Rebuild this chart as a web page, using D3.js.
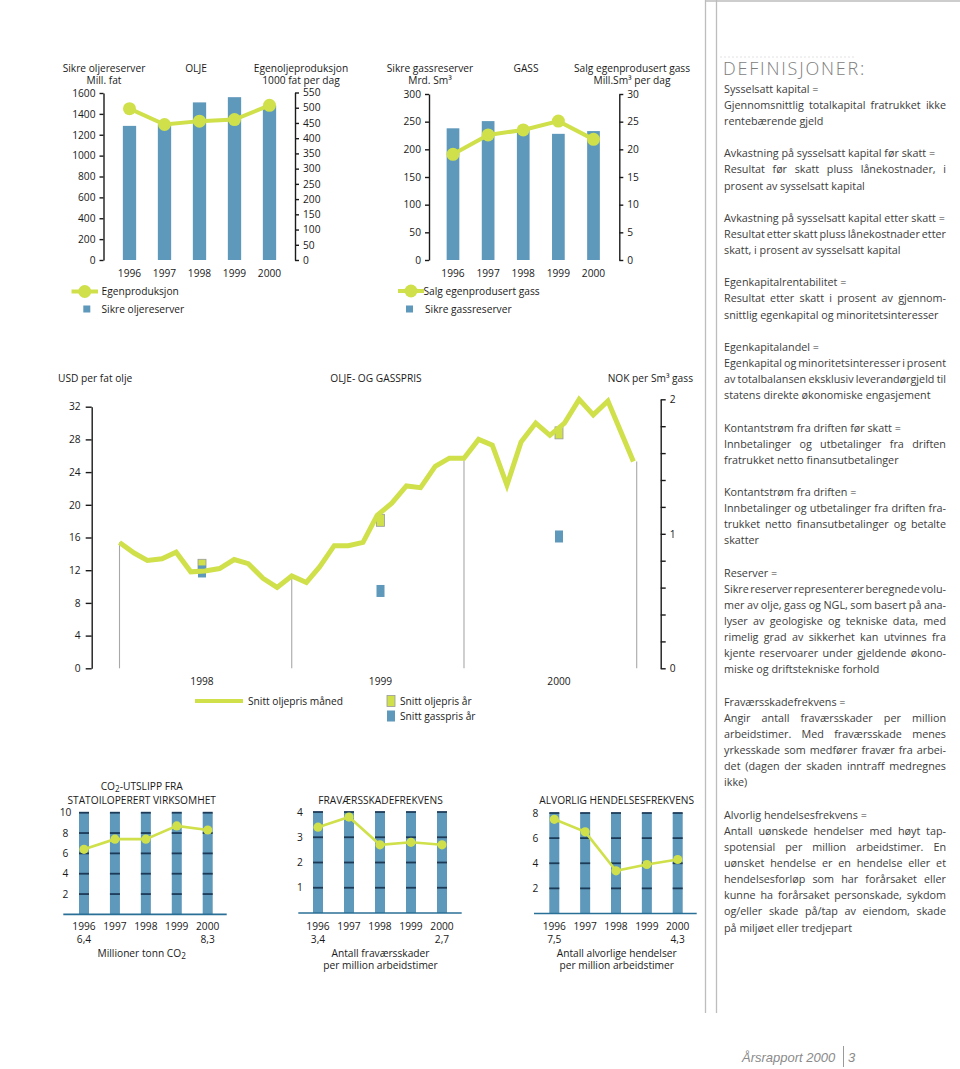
<!DOCTYPE html>
<html><head><meta charset="utf-8">
<script src="https://cdn.jsdelivr.net/npm/d3@7"></script>
<style>
body{margin:0;background:#fff;}
svg{display:block;font-family:"Open Sans",sans-serif;}
</style></head><body>
<svg id="c" width="960" height="1069"></svg>
<script>
// ---------------- DATA ----------------
const years = ["1996","1997","1998","1999","2000"];
// OLJE
const oilReserves = [1285, 1300, 1510, 1560, 1480];     // Mill. fat
const oilProduction = [497, 445, 456, 461, 508];        // 1000 fat per dag
const oilLeftTicks = [0,200,400,600,800,1000,1200,1400,1600];
const oilRightTicks = [0,50,100,150,200,250,300,350,400,450,500,550];
// GASS
const gasReserves = [238, 251, 236, 228, 233];          // Mrd. Sm3
const gasSales = [19.1, 22.6, 23.5, 25.1, 21.8];        // Mill. Sm3 per dag
const gasLeftTicks = [0,50,100,150,200,250,300];
const gasRightTicks = [0,5,10,15,20,25,30];
// OLJE- OG GASSPRIS
const priceMonths = ["1998-01-01","1998-02-01","1998-03-01","1998-04-01","1998-05-01","1998-06-01",
  "1998-07-01","1998-08-01","1998-09-01","1998-10-01","1998-11-01","1998-12-01",
  "1999-01-01","1999-02-01","1999-03-01","1999-04-01","1999-05-01","1999-06-01",
  "1999-07-01","1999-08-01","1999-09-01","1999-10-01","1999-11-01","1999-12-01",
  "2000-01-01","2000-02-01","2000-03-01","2000-04-01","2000-05-01","2000-06-01",
  "2000-07-01","2000-08-01","2000-09-01","2000-10-01","2000-11-01","2000-12-25"];
const oilPriceMonthly = [15.4,14.1,13.2,13.4,14.2,11.8,11.9,12.2,13.3,12.8,11.0,9.9,
  11.3,10.5,12.4,15.0,15.0,15.4,18.7,20.2,22.3,22.1,24.7,25.7,
  25.7,28.0,27.3,22.4,27.7,30.0,28.5,30.0,32.9,31.0,32.7,25.3];
const priceYears = ["1998","1999","2000"];
const oilPriceAnnual = [12.6, 18.1, 28.8];   // USD per fat
const gasPriceAnnual = [0.72, 0.575, 0.98];  // NOK per Sm3
const usdTicks = [0,4,8,12,16,20,24,28,32];
const nokTicks = [0,0.2,0.4,0.6,0.8,1,1.2,1.4,1.6,1.8,2];
// Small charts
const co2 = [6.4, 7.4, 7.4, 8.7, 8.3];
const co2Ticks = [2,4,6,8,10];
const lostTime = [3.4, 3.8, 2.7, 2.8, 2.7];
const lostTicks = [1,2,3,4];
const serious = [7.5, 6.5, 3.4, 3.9, 4.3];
const seriousTicks = [2,4,6,8];
// Definisjoner
const definitions = [
 ["Sysselsatt kapital =","Gjennomsnittlig totalkapital fratrukket ikke","rentebærende gjeld"],
 ["Avkastning på sysselsatt kapital før skatt =","Resultat før skatt pluss lånekostnader, i","prosent av sysselsatt kapital"],
 ["Avkastning på sysselsatt kapital etter skatt =","Resultat etter skatt pluss lånekostnader etter","skatt, i prosent av sysselsatt kapital"],
 ["Egenkapitalrentabilitet =","Resultat etter skatt i prosent av gjennom-","snittlig egenkapital og minoritetsinteresser"],
 ["Egenkapitalandel =","Egenkapital og minoritetsinteresser i prosent","av totalbalansen eksklusiv leverandørgjeld til","statens direkte økonomiske engasjement"],
 ["Kontantstrøm fra driften før skatt =","Innbetalinger og utbetalinger fra driften","fratrukket netto finansutbetalinger"],
 ["Kontantstrøm fra driften =","Innbetalinger og utbetalinger fra driften fra-","trukket netto finansutbetalinger og betalte","skatter"],
 ["Reserver =","Sikre reserver representerer beregnede volu-","mer av olje, gass og NGL, som basert på ana-","lyser av geologiske og tekniske data, med","rimelig grad av sikkerhet kan utvinnes fra","kjente reservoarer under gjeldende økono-","miske og driftstekniske forhold"],
 ["Fraværsskadefrekvens =","Angir antall fraværsskader per million","arbeidstimer. Med fraværsskade menes","yrkesskade som medfører fravær fra arbei-","det (dagen der skaden inntraff medregnes","ikke)"],
 ["Alvorlig hendelsesfrekvens =","Antall uønskede hendelser med høyt tap-","spotensial per million arbeidstimer. En","uønsket hendelse er en hendelse eller et","hendelsesforløp som har forårsaket eller","kunne ha forårsaket personskade, sykdom","og/eller skade på/tap av eiendom, skade","på miljøet eller tredjepart"]
];

// ---------------- DRAWING ----------------
const svg = d3.select("#c");
const BLUE = "#5e98bb", GREEN = "#cfe04a", INK = "#1a1a1a";
const FS = 10.2;

function label(g, x, y, s, anchor) {
  return g.append("text").attr("x", x).attr("y", y).attr("dy", "0.35em")
    .attr("text-anchor", anchor || "middle").attr("font-size", FS).attr("fill", INK).text(s);
}
function styleAxis(sel) {
  sel.attr("font-family", null).attr("font-size", FS);
  sel.selectAll("text").attr("fill", INK);
  sel.selectAll("path,line").attr("stroke", INK).attr("stroke-width", 1.4);
}

// page rules
svg.append("line").attr("x1", 705.5).attr("x2", 705.5).attr("y1", 0).attr("y2", 1013).attr("stroke", "#bdbdbd").attr("stroke-width", 1.3);
svg.append("line").attr("x1", 716.5).attr("x2", 716.5).attr("y1", 0).attr("y2", 1013).attr("stroke", "#bdbdbd").attr("stroke-width", 1.3);
svg.append("line").attr("x1", 705).attr("x2", 960).attr("y1", 1).attr("y2", 1).attr("stroke", "#bdbdbd").attr("stroke-width", 1.3);
svg.append("line").attr("x1", 720).attr("x2", 855).attr("y1", 57).attr("y2", 57).attr("stroke", "#e2e2e2").attr("stroke-dasharray", "2,2");

// ---- combo charts (OLJE, GASS) ----
function combo(o) {
  const g = svg.append("g");
  const x = d3.scalePoint().domain(years).range(o.xr);
  const yL = d3.scaleLinear().domain([0, d3.max(o.lt)]).range([o.y0, o.yTopL]);
  const yR = d3.scaleLinear().domain([0, d3.max(o.rt)]).range([o.y0, o.yTopR]);
  g.selectAll("rect.bar").data(o.bars).join("rect").attr("class", "bar")
    .attr("x", (d, i) => x(years[i]) - o.bw / 2).attr("width", o.bw)
    .attr("y", d => yL(d)).attr("height", d => yL(0) - yL(d)).attr("fill", BLUE);
  const line = d3.line().x((d, i) => x(years[i])).y(d => yR(d));
  g.append("path").datum(o.line).attr("d", line).attr("fill", "none")
    .attr("stroke", GREEN).attr("stroke-width", 4);
  g.selectAll("circle").data(o.line).join("circle")
    .attr("cx", (d, i) => x(years[i])).attr("cy", d => yR(d)).attr("r", 6.5).attr("fill", GREEN);
  g.append("g").attr("transform", `translate(${o.axL},0)`)
    .call(d3.axisLeft(yL).tickValues(o.lt).tickSize(4).tickSizeOuter(0).tickPadding(4).tickFormat(d3.format("d")))
    .call(styleAxis);
  g.append("g").attr("transform", `translate(${o.axR},0)`)
    .call(d3.axisRight(yR).tickValues(o.rt).tickSize(4).tickSizeOuter(0).tickPadding(4).tickFormat(d3.format("d")))
    .call(styleAxis);
  years.forEach(yr => label(g, x(yr), 273, yr));
  o.titles.forEach(t => label(g, t[0], t[1], t[2]));
  // legend
  const lg = o.legend;
  g.append("line").attr("x1", lg.lx0).attr("x2", lg.lx1).attr("y1", lg.ly).attr("y2", lg.ly)
    .attr("stroke", GREEN).attr("stroke-width", 4);
  g.append("circle").attr("cx", (lg.lx0 + lg.lx1) / 2).attr("cy", lg.ly).attr("r", 6.5).attr("fill", GREEN);
  label(g, lg.tx1, lg.ly, lg.t1, "start");
  g.append("rect").attr("x", lg.sx).attr("y", lg.sy - 3.5).attr("width", 7).attr("height", 7).attr("fill", BLUE);
  label(g, lg.tx2, lg.sy, lg.t2, "start");
}

combo({
  xr: [129.5, 269.5], bw: 13.3, y0: 260, yTopL: 93, yTopR: 92.5, axL: 103.5, axR: 295,
  lt: oilLeftTicks, rt: oilRightTicks, bars: oilReserves, line: oilProduction,
  titles: [[104, 68, "Sikre oljereserver"], [104, 80, "Mill. fat"], [196, 68, "OLJE"],
           [301, 68, "Egenoljeproduksjon"], [301, 80, "1000 fat per dag"]],
  legend: {lx0: 71.5, lx1: 98, ly: 291.5, tx1: 101.5, t1: "Egenproduksjon", sx: 83.3, sy: 309, tx2: 101.5, t2: "Sikre oljereserver"}
});
combo({
  xr: [453, 593.5], bw: 12.7, y0: 260, yTopL: 94, yTopR: 94, axL: 429, axR: 619.3,
  lt: gasLeftTicks, rt: gasRightTicks, bars: gasReserves, line: gasSales,
  titles: [[430, 68, "Sikre gassreserver"], [430, 80, "Mrd. Sm³"], [526, 68, "GASS"],
           [632, 68, "Salg egenprodusert gass"], [632, 80, "Mill.Sm³ per dag"]],
  legend: {lx0: 398, lx1: 424, ly: 291, tx1: 423.5, t1: "Salg egenprodusert gass", sx: 406, sy: 309, tx2: 425, t2: "Sikre gassreserver"}
});

// ---- OLJE- OG GASSPRIS ----
(function () {
  const g = svg.append("g");
  const parse = d3.timeParse("%Y-%m-%d");
  const dates = priceMonths.map(parse);
  const x = d3.scaleTime().domain([new Date(1998, 0, 1), new Date(2001, 0, 1)]).range([119.5, 636.7]);
  const yL = d3.scaleLinear().domain([0, 32]).range([668.3, 406.7]);
  const yR = d3.scaleLinear().domain([0, 2]).range([668.3, 399.3]);
  const xy = d3.scalePoint().domain(priceYears).range([202, 559]);

  // year boundary lines
  const bounds = [new Date(1998, 0, 1), new Date(1999, 0, 1), new Date(2000, 0, 1), new Date(2001, 0, 1)];
  const valAt = b => {
    let best = 0;
    dates.forEach((d, i) => { if (Math.abs(d - b) < Math.abs(dates[best] - b)) best = i; });
    return oilPriceMonthly[best];
  };
  g.selectAll("line.yb").data(bounds).join("line").attr("class", "yb")
    .attr("x1", d => x(d)).attr("x2", d => x(d)).attr("y1", yL(0)).attr("y2", d => yL(valAt(d)))
    .attr("stroke", "#a8a8a8").attr("stroke-width", 1.1);

  // annual markers
  g.selectAll("rect.oa").data(oilPriceAnnual).join("rect").attr("class", "oa")
    .attr("x", (d, i) => xy(priceYears[i]) - 4).attr("y", d => yL(d) - 6).attr("width", 8).attr("height", 12)
    .attr("fill", GREEN).attr("stroke", "#9a9a9a").attr("stroke-width", 0.8);
  g.selectAll("rect.ga").data(gasPriceAnnual).join("rect").attr("class", "ga")
    .attr("x", (d, i) => xy(priceYears[i]) - 4).attr("y", d => yR(d) - 6).attr("width", 8).attr("height", 12)
    .attr("fill", BLUE);

  const line = d3.line().x((d, i) => x(dates[i])).y(d => yL(d));
  g.append("path").datum(oilPriceMonthly).attr("d", line).attr("fill", "none")
    .attr("stroke", GREEN).attr("stroke-width", 5).attr("stroke-linejoin", "miter");

  g.append("g").attr("transform", "translate(91.7,0)")
    .call(d3.axisLeft(yL).tickValues(usdTicks).tickSize(6).tickSizeOuter(0).tickPadding(5))
    .call(styleAxis);
  g.append("g").attr("transform", "translate(660.7,0)")
    .call(d3.axisRight(yR).tickValues(nokTicks).tickSize(5).tickSizeOuter(0).tickPadding(4)
      .tickFormat(d => Math.abs(d - Math.round(d)) < 1e-9 ? d3.format("d")(d) : ""))
    .call(styleAxis);

  priceYears.forEach(yr => label(g, xy(yr), 681, yr));
  label(g, 58, 378, "USD per fat olje", "start");
  label(g, 376, 378, "OLJE- OG GASSPRIS");
  label(g, 693, 378, "NOK per Sm³ gass", "end");

  // legend
  g.append("line").attr("x1", 195).attr("x2", 243).attr("y1", 701).attr("y2", 701).attr("stroke", GREEN).attr("stroke-width", 4);
  label(g, 248, 701, "Snitt oljepris måned", "start");
  g.append("rect").attr("x", 387).attr("y", 695.5).attr("width", 8).attr("height", 11).attr("fill", GREEN).attr("stroke", "#9a9a9a").attr("stroke-width", 0.8);
  label(g, 400, 701, "Snitt oljepris år", "start");
  g.append("rect").attr("x", 387).attr("y", 710.5).attr("width", 8).attr("height", 11).attr("fill", BLUE);
  label(g, 400, 716, "Snitt gasspris år", "start");
})();

// ---- small charts ----
function small(o) {
  const g = svg.append("g");
  const x = d3.scalePoint().domain(years).range(o.xr);
  const y = d3.scaleLinear().domain([0, d3.max(o.ticks)]).range(o.yr);
  const bw = 10;
  g.selectAll("rect").data(years).join("rect")
    .attr("x", d => x(d) - bw / 2).attr("width", bw)
    .attr("y", y(d3.max(o.ticks))).attr("height", y(0) - y(d3.max(o.ticks))).attr("fill", BLUE);
  years.forEach(yr => {
    g.selectAll(null).data(o.ticks).join("line")
      .attr("x1", x(yr) - bw / 2).attr("x2", x(yr) + bw / 2)
      .attr("y1", d => y(d)).attr("y2", d => y(d)).attr("stroke", "#1c3b59").attr("stroke-width", 1.8);
  });
  g.append("line").attr("x1", o.bx[0]).attr("x2", o.bx[1]).attr("y1", y(0)).attr("y2", y(0))
    .attr("stroke", "#2a6f96").attr("stroke-width", 1.7);
  o.ticks.forEach(t => label(g, o.lx, y(t), String(t)));
  const line = d3.line().x((d, i) => x(years[i])).y(d => y(d));
  g.append("path").datum(o.vals).attr("d", line).attr("fill", "none").attr("stroke", GREEN).attr("stroke-width", 2.6);
  g.selectAll("circle").data(o.vals).join("circle")
    .attr("cx", (d, i) => x(years[i])).attr("cy", d => y(d)).attr("r", 4.6).attr("fill", GREEN);
  years.forEach(yr => label(g, x(yr), 926, yr));
  const fmt = v => String(v).replace(".", ",");
  label(g, x(years[0]), 939.2, fmt(o.vals[0]));
  label(g, x(years[4]), 939.2, fmt(o.vals[4]));
  const rich = (t) => {
    const tt = label(g, o.cx, t[0], "");
    t[1].forEach(p => {
      const sp = tt.append("tspan").text(p.s);
      if (p.sub) sp.attr("font-size", FS * 0.8).attr("baseline-shift", "-25%");
    });
  };
  o.titles.forEach(rich);
  o.subs.forEach(rich);
}

small({
  xr: [84, 207.7], yr: [914.4, 812.7], ticks: co2Ticks, vals: co2, lx: 65.5, bx: [63.3, 226.7], cx: 141.7,
  titles: [[786, [{s: "CO"}, {s: "2", sub: true}, {s: "-UTSLIPP FRA"}]], [800, [{s: "STATOILOPERERT VIRKSOMHET"}]]],
  subs: [[953, [{s: "Millioner tonn CO"}, {s: "2", sub: true}]]]
});
small({
  xr: [318, 442], yr: [913, 812], ticks: lostTicks, vals: lostTime, lx: 300, bx: [298.3, 461.7], cx: 380.5,
  titles: [[800, [{s: "FRAVÆRSSKADEFREKVENS"}]]],
  subs: [[953, [{s: "Antall fraværsskader"}]], [965.3, [{s: "per million arbeidstimer"}]]]
});
small({
  xr: [554.3, 677.7], yr: [913.5, 813], ticks: seriousTicks, vals: serious, lx: 535.5, bx: [534, 696.7], cx: 616.7,
  titles: [[800, [{s: "ALVORLIG HENDELSESFREKVENS"}]]],
  subs: [[953, [{s: "Antall alvorlige hendelser"}]], [965.3, [{s: "per million arbeidstimer"}]]]
});

// ---- DEFINISJONER ----
(function () {
  const DEF_X = 724, DEF_W = 222, DEF_Y0 = 89, DEF_LH = 16.13;
  svg.append("text").attr("x", 723).attr("y", 75).attr("font-size", 18).attr("letter-spacing", 1.8)
    .attr("fill", "#7d7d7d").attr("font-weight", 300).text("DEFINISJONER:");
  const probe = svg.append("text").attr("font-size", 10).text("Avkastning på sysselsatt kapital etter skatt =");
  const size = 10 * 221 / probe.node().getComputedTextLength();
  probe.remove();
  const g = svg.append("g").attr("font-size", size).attr("fill", "#3c3c3c");
  let li = 0;
  definitions.forEach(par => {
    par.forEach((ln, k) => {
      const y = DEF_Y0 + li * DEF_LH;
      const justify = k > 0 && k < par.length - 1;
      if (!justify) {
        g.append("text").attr("x", DEF_X).attr("y", y).attr("dy", "0.35em").text(ln);
      } else {
        const words = ln.split(" ");
        const nodes = words.map(w => g.append("text").attr("y", y).attr("dy", "0.35em").text(w));
        const widths = nodes.map(n => n.node().getComputedTextLength());
        const gap = (DEF_W - d3.sum(widths)) / (words.length - 1);
        let xx = DEF_X;
        nodes.forEach((n, j) => { n.attr("x", xx); xx += widths[j] + gap; });
      }
      li++;
    });
    li++;
  });
})();

// ---- footer ----
svg.append("text").attr("x", 742).attr("y", 1057).attr("dy", "0.35em").attr("font-family", "'Liberation Sans', sans-serif")
  .attr("font-style", "italic").attr("font-size", 13).attr("fill", "#8a8a8a").text("Årsrapport 2000");
svg.append("line").attr("x1", 843.5).attr("x2", 843.5).attr("y1", 1046).attr("y2", 1067).attr("stroke", "#9a9a9a").attr("stroke-width", 1);
svg.append("text").attr("x", 848).attr("y", 1057).attr("dy", "0.35em").attr("font-family", "'Liberation Sans', sans-serif")
  .attr("font-style", "italic").attr("font-size", 13).attr("fill", "#8a8a8a").text("3");
</script>
</body></html>
